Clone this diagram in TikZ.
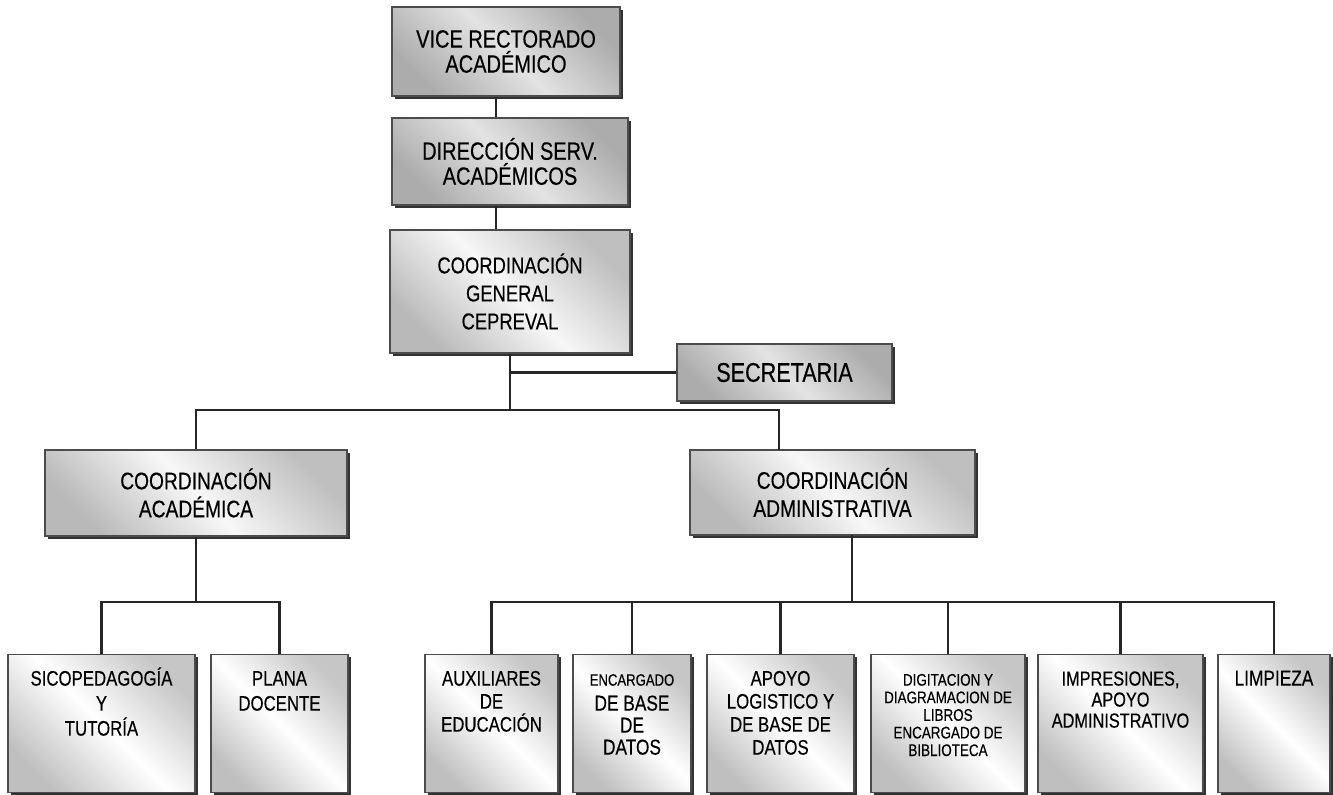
\documentclass[tikz,border=0pt]{standalone}
\usepackage{fontspec}
\setmainfont{Liberation Sans}[FakeStretch=0.8, FakeBold=0.35]
\usetikzlibrary{shadows}

\newcommand\boxfont[2]{\fontsize{#1}{#2}\selectfont}
% texto arriba en las cajas de abajo
\newcommand\toptxt[3]{\parbox[c][69pt][t]{#1}{\centering#2\rule{0pt}{15.5pt}#3}}

\tikzset{
  unit/.style={draw=black!70, line width=0.6pt, inner sep=0pt, align=center,
    drop shadow={shadow xshift=1.4pt, shadow yshift=-1.4pt, fill=black!80, opacity=1}},
  headbox/.style={unit, left color=gray!65, right color=gray!65, middle color=gray!22, shading angle=-45},
  midbox/.style={unit, left color=gray!50, right color=gray!55, middle color=gray!6, shading angle=-45},
  leafbox/.style={unit, anchor=north, minimum height=69pt, left color=gray!45, right color=gray!50, middle color=white, shading angle=-45},
  link/.style={draw=black!85, line width=1.3pt},
}

\begin{document}
\begin{tikzpicture}[x=0.5pt, y=-0.5pt]
\useasboundingbox (0,0) rectangle (1333,794);

% direccion
\node[headbox, minimum width=114pt, minimum height=44.5pt, font=\boxfont{12.5}{12.5}] (vice) at (506,51.5) {VICE RECTORADO\\ACADÉMICO};
\node[headbox, minimum width=118pt, minimum height=43.5pt, font=\boxfont{12.5}{12.5}] (dir) at (510,161.5) {DIRECCIÓN SERV.\\ACADÉMICOS};
\node[midbox, minimum width=120pt, minimum height=61.5pt, font=\boxfont{11.5}{14}] (gen) at (510,291.5) {COORDINACIÓN\\GENERAL\\CEPREVAL};
\node[headbox, minimum width=107.5pt, minimum height=28.5pt, font=\boxfont{13.5}{13.5}] (secr) at (784.5,372.5) {SECRETARIA};

% coordinaciones
\node[midbox, minimum width=151pt, minimum height=43pt, font=\boxfont{12}{14}] (acad) at (196,493) {COORDINACIÓN\\ACADÉMICA};
\node[midbox, minimum width=142.5pt, minimum height=42.5pt, font=\boxfont{12}{14}] (admin) at (832.5,492.5) {COORDINACIÓN\\ADMINISTRATIVA};

% unidades
\node[leafbox, minimum width=93.5pt] (sico) at (101.5,654) {\toptxt{91pt}{\boxfont{10.5}{12.5}}{SICOPEDAGOGÍA\\Y\\TUTORÍA}};
\node[leafbox, minimum width=68.5pt] (plana) at (279.5,654) {\toptxt{66pt}{\boxfont{10.5}{12.5}}{PLANA\\DOCENTE}};
\node[leafbox, minimum width=66.5pt] (aux) at (491.5,654) {\toptxt{64pt}{\boxfont{10.5}{11.5}}{AUXILIARES\\DE\\EDUCACIÓN}};
\node[leafbox, minimum width=59pt] (enc) at (632,654) {\toptxt{57pt}{\boxfont{10.8}{11}}{{\boxfont{8.2}{11}ENCARGADO}\\[1.5pt]DE BASE\\DE\\DATOS}};
\node[leafbox, minimum width=73.5pt] (apoyo) at (780.5,654) {\toptxt{71pt}{\boxfont{10.5}{11.5}}{APOYO\\LOGISTICO Y\\DE BASE DE\\DATOS}};
\node[leafbox, minimum width=77pt] (digit) at (948,654) {\toptxt{75pt}{\boxfont{8.4}{8.8}}{DIGITACION Y\\DIAGRAMACION DE\\LIBROS\\ENCARGADO DE\\BIBLIOTECA}};
\node[leafbox, minimum width=82.5pt] (impres) at (1120.5,654) {\toptxt{80pt}{\boxfont{10.2}{10.5}}{IMPRESIONES,\\APOYO\\ADMINISTRATIVO}};
\node[leafbox, minimum width=56pt] (limp) at (1274,654) {\toptxt{54pt}{\boxfont{10.8}{11}}{LIMPIEZA}};

% lineas
\coordinate (spine) at (496,0);
\coordinate (bus) at (0,410);
\coordinate (admtap) at (779,450);
\coordinate (admout) at (852,535);
\coordinate (lowbus) at (0,602);

\draw[link] (vice.south -| spine) -- (dir.north -| spine);
\draw[link] (dir.south -| spine) -- (gen.north -| spine);
\draw[link] (gen.south) -- (gen.south |- bus);
\draw[link] (gen.south |- secr.west) -- (secr.west);
\draw[link] (acad.north) |- (bus -| admtap) -- (admtap);

\draw[link] (acad.south) -- (acad.south |- lowbus);
\draw[link] (sico.north) |- (lowbus -| plana.north) -- (plana.north);

\draw[link] (admout) -- (admout |- lowbus);
\draw[link] (aux.north) |- (lowbus -| limp.north) -- (limp.north);
\foreach \n in {enc,apoyo,digit,impres}
  \draw[link] (\n.north) -- (\n.north |- lowbus);
\end{tikzpicture}
\end{document}
